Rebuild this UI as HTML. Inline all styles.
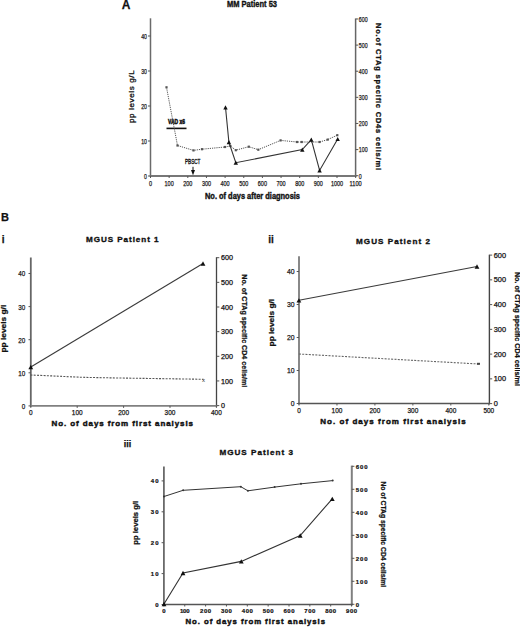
<!DOCTYPE html>
<html><head><meta charset="utf-8"><style>
html,body{margin:0;padding:0;background:#fff;width:520px;height:627px;overflow:hidden}
svg{display:block}
</style></head><body>
<svg width="520" height="627" viewBox="0 0 520 627">
<rect width="520" height="627" fill="#fff"/>
<line x1="150.50" y1="18.30" x2="150.50" y2="176.80" stroke="#6a6a6a" stroke-width="1.5" />
<line x1="355.60" y1="18.50" x2="355.60" y2="176.80" stroke="#666" stroke-width="1.5" />
<line x1="149.80" y1="176.00" x2="356.30" y2="176.00" stroke="#777" stroke-width="1.8" />
<line x1="148.00" y1="176.00" x2="150.50" y2="176.00" stroke="#555" stroke-width="1" />
<text x="147.00" y="178.80" font-family="Liberation Sans" font-size="8" font-weight="normal" text-anchor="end" fill="#111" stroke="#111" stroke-width="0.25" textLength="2.90" lengthAdjust="spacingAndGlyphs" >0</text>
<line x1="148.00" y1="141.00" x2="150.50" y2="141.00" stroke="#555" stroke-width="1" />
<text x="147.00" y="143.80" font-family="Liberation Sans" font-size="8" font-weight="normal" text-anchor="end" fill="#111" stroke="#111" stroke-width="0.25" textLength="5.80" lengthAdjust="spacingAndGlyphs" >10</text>
<line x1="148.00" y1="106.00" x2="150.50" y2="106.00" stroke="#555" stroke-width="1" />
<text x="147.00" y="108.80" font-family="Liberation Sans" font-size="8" font-weight="normal" text-anchor="end" fill="#111" stroke="#111" stroke-width="0.25" textLength="5.80" lengthAdjust="spacingAndGlyphs" >20</text>
<line x1="148.00" y1="71.00" x2="150.50" y2="71.00" stroke="#555" stroke-width="1" />
<text x="147.00" y="73.80" font-family="Liberation Sans" font-size="8" font-weight="normal" text-anchor="end" fill="#111" stroke="#111" stroke-width="0.25" textLength="5.80" lengthAdjust="spacingAndGlyphs" >30</text>
<line x1="148.00" y1="36.00" x2="150.50" y2="36.00" stroke="#555" stroke-width="1" />
<text x="147.00" y="38.80" font-family="Liberation Sans" font-size="8" font-weight="normal" text-anchor="end" fill="#111" stroke="#111" stroke-width="0.25" textLength="5.80" lengthAdjust="spacingAndGlyphs" >40</text>
<line x1="355.60" y1="175.70" x2="358.30" y2="175.70" stroke="#555" stroke-width="1" />
<text x="358.80" y="178.50" font-family="Liberation Sans" font-size="8" font-weight="normal" text-anchor="start" fill="#111" stroke="#111" stroke-width="0.25" textLength="2.93" lengthAdjust="spacingAndGlyphs" >0</text>
<line x1="355.60" y1="149.58" x2="358.30" y2="149.58" stroke="#555" stroke-width="1" />
<text x="358.80" y="152.38" font-family="Liberation Sans" font-size="8" font-weight="normal" text-anchor="start" fill="#111" stroke="#111" stroke-width="0.25" textLength="8.79" lengthAdjust="spacingAndGlyphs" >100</text>
<line x1="355.60" y1="123.46" x2="358.30" y2="123.46" stroke="#555" stroke-width="1" />
<text x="358.80" y="126.26" font-family="Liberation Sans" font-size="8" font-weight="normal" text-anchor="start" fill="#111" stroke="#111" stroke-width="0.25" textLength="8.79" lengthAdjust="spacingAndGlyphs" >200</text>
<line x1="355.60" y1="97.34" x2="358.30" y2="97.34" stroke="#555" stroke-width="1" />
<text x="358.80" y="100.14" font-family="Liberation Sans" font-size="8" font-weight="normal" text-anchor="start" fill="#111" stroke="#111" stroke-width="0.25" textLength="8.79" lengthAdjust="spacingAndGlyphs" >300</text>
<line x1="355.60" y1="71.22" x2="358.30" y2="71.22" stroke="#555" stroke-width="1" />
<text x="358.80" y="74.02" font-family="Liberation Sans" font-size="8" font-weight="normal" text-anchor="start" fill="#111" stroke="#111" stroke-width="0.25" textLength="8.79" lengthAdjust="spacingAndGlyphs" >400</text>
<line x1="355.60" y1="45.10" x2="358.30" y2="45.10" stroke="#555" stroke-width="1" />
<text x="358.80" y="47.90" font-family="Liberation Sans" font-size="8" font-weight="normal" text-anchor="start" fill="#111" stroke="#111" stroke-width="0.25" textLength="8.79" lengthAdjust="spacingAndGlyphs" >500</text>
<line x1="355.60" y1="18.98" x2="358.30" y2="18.98" stroke="#555" stroke-width="1" />
<text x="358.80" y="21.78" font-family="Liberation Sans" font-size="8" font-weight="normal" text-anchor="start" fill="#111" stroke="#111" stroke-width="0.25" textLength="8.79" lengthAdjust="spacingAndGlyphs" >600</text>
<line x1="150.50" y1="176.00" x2="150.50" y2="178.00" stroke="#555" stroke-width="1" />
<text x="150.50" y="186.30" font-family="Liberation Sans" font-size="8" font-weight="normal" text-anchor="middle" fill="#111" stroke="#111" stroke-width="0.25" textLength="3.05" lengthAdjust="spacingAndGlyphs" >0</text>
<line x1="169.15" y1="176.00" x2="169.15" y2="178.00" stroke="#555" stroke-width="1" />
<text x="169.15" y="186.30" font-family="Liberation Sans" font-size="8" font-weight="normal" text-anchor="middle" fill="#111" stroke="#111" stroke-width="0.25" textLength="9.15" lengthAdjust="spacingAndGlyphs" >100</text>
<line x1="187.80" y1="176.00" x2="187.80" y2="178.00" stroke="#555" stroke-width="1" />
<text x="187.80" y="186.30" font-family="Liberation Sans" font-size="8" font-weight="normal" text-anchor="middle" fill="#111" stroke="#111" stroke-width="0.25" textLength="9.15" lengthAdjust="spacingAndGlyphs" >200</text>
<line x1="206.45" y1="176.00" x2="206.45" y2="178.00" stroke="#555" stroke-width="1" />
<text x="206.45" y="186.30" font-family="Liberation Sans" font-size="8" font-weight="normal" text-anchor="middle" fill="#111" stroke="#111" stroke-width="0.25" textLength="9.15" lengthAdjust="spacingAndGlyphs" >300</text>
<line x1="225.10" y1="176.00" x2="225.10" y2="178.00" stroke="#555" stroke-width="1" />
<text x="225.10" y="186.30" font-family="Liberation Sans" font-size="8" font-weight="normal" text-anchor="middle" fill="#111" stroke="#111" stroke-width="0.25" textLength="9.15" lengthAdjust="spacingAndGlyphs" >400</text>
<line x1="243.75" y1="176.00" x2="243.75" y2="178.00" stroke="#555" stroke-width="1" />
<text x="243.75" y="186.30" font-family="Liberation Sans" font-size="8" font-weight="normal" text-anchor="middle" fill="#111" stroke="#111" stroke-width="0.25" textLength="9.15" lengthAdjust="spacingAndGlyphs" >500</text>
<line x1="262.40" y1="176.00" x2="262.40" y2="178.00" stroke="#555" stroke-width="1" />
<text x="262.40" y="186.30" font-family="Liberation Sans" font-size="8" font-weight="normal" text-anchor="middle" fill="#111" stroke="#111" stroke-width="0.25" textLength="9.15" lengthAdjust="spacingAndGlyphs" >600</text>
<line x1="281.05" y1="176.00" x2="281.05" y2="178.00" stroke="#555" stroke-width="1" />
<text x="281.05" y="186.30" font-family="Liberation Sans" font-size="8" font-weight="normal" text-anchor="middle" fill="#111" stroke="#111" stroke-width="0.25" textLength="9.15" lengthAdjust="spacingAndGlyphs" >700</text>
<line x1="299.70" y1="176.00" x2="299.70" y2="178.00" stroke="#555" stroke-width="1" />
<text x="299.70" y="186.30" font-family="Liberation Sans" font-size="8" font-weight="normal" text-anchor="middle" fill="#111" stroke="#111" stroke-width="0.25" textLength="9.15" lengthAdjust="spacingAndGlyphs" >800</text>
<line x1="318.35" y1="176.00" x2="318.35" y2="178.00" stroke="#555" stroke-width="1" />
<text x="318.35" y="186.30" font-family="Liberation Sans" font-size="8" font-weight="normal" text-anchor="middle" fill="#111" stroke="#111" stroke-width="0.25" textLength="9.15" lengthAdjust="spacingAndGlyphs" >900</text>
<line x1="337.00" y1="176.00" x2="337.00" y2="178.00" stroke="#555" stroke-width="1" />
<text x="337.00" y="186.30" font-family="Liberation Sans" font-size="8" font-weight="normal" text-anchor="middle" fill="#111" stroke="#111" stroke-width="0.25" textLength="12.20" lengthAdjust="spacingAndGlyphs" >1000</text>
<line x1="355.65" y1="176.00" x2="355.65" y2="178.00" stroke="#555" stroke-width="1" />
<text x="355.65" y="186.30" font-family="Liberation Sans" font-size="8" font-weight="normal" text-anchor="middle" fill="#111" stroke="#111" stroke-width="0.25" textLength="12.20" lengthAdjust="spacingAndGlyphs" >1100</text>
<text x="121.80" y="8.70" font-family="Liberation Sans" font-size="12" font-weight="bold" text-anchor="start" fill="#111" stroke="#111" stroke-width="0.25" >A</text>
<text x="227.00" y="7.30" font-family="Liberation Sans" font-size="9.5" font-weight="bold" text-anchor="start" fill="#111" stroke="#111" stroke-width="0.4" textLength="50.00" lengthAdjust="spacingAndGlyphs" >MM Patient 53</text>
<text transform="translate(134.40,123.00) rotate(-90)" x="0" y="0" font-family="Liberation Sans" font-size="8" font-weight="normal" text-anchor="start" fill="#111" stroke="#111" stroke-width="0.3" textLength="52.60" lengthAdjust="spacing" >pp levels g/L</text>
<text transform="translate(375.60,23.00) rotate(90)" x="0" y="0" font-family="Liberation Sans" font-size="7.5" font-weight="bold" text-anchor="start" fill="#111" stroke="#111" stroke-width="0.3" textLength="147.00" lengthAdjust="spacing" >No.of CTAg specific CD4s cells/ml</text>
<text x="205.00" y="198.50" font-family="Liberation Sans" font-size="8.6" font-weight="bold" text-anchor="start" fill="#111" stroke="#111" stroke-width="0.4" textLength="95.00" lengthAdjust="spacingAndGlyphs" >No. of days after diagnosis</text>
<text x="168.00" y="124.20" font-family="Liberation Sans" font-size="7.2" font-weight="bold" text-anchor="start" fill="#111" stroke="#111" stroke-width="0.55" textLength="17.00" lengthAdjust="spacingAndGlyphs" >VAD x6</text>
<line x1="166.50" y1="128.40" x2="186.50" y2="128.40" stroke="#111" stroke-width="1.6" />
<text x="185.00" y="163.80" font-family="Liberation Sans" font-size="7" font-weight="normal" text-anchor="start" fill="#111" stroke="#111" stroke-width="0.35" textLength="15.40" lengthAdjust="spacingAndGlyphs" >PBSCT</text>
<line x1="193.00" y1="166.80" x2="193.00" y2="171.00" stroke="#111" stroke-width="1" />
<polygon points="191,170 195,170 193,175.3" fill="#111"/>
<polyline points="166.50,87.30 177.50,145.50 193.50,150.40 202.00,149.20 225.00,147.00 230.40,146.00 235.80,150.20 248.80,146.70 258.30,149.70 280.60,140.40 297.00,142.00 301.70,142.00 319.60,142.00 327.70,139.60 337.30,135.20" fill="none" stroke="#555" stroke-width="1" stroke-dasharray="1.2,1"/>
<rect x="165.4" y="86.2" width="2.2" height="2.2" fill="#555"/>
<rect x="176.4" y="144.4" width="2.2" height="2.2" fill="#555"/>
<rect x="192.4" y="149.3" width="2.2" height="2.2" fill="#555"/>
<rect x="200.9" y="148.1" width="2.2" height="2.2" fill="#555"/>
<rect x="223.9" y="145.9" width="2.2" height="2.2" fill="#555"/>
<rect x="229.3" y="144.9" width="2.2" height="2.2" fill="#555"/>
<rect x="234.70000000000002" y="149.1" width="2.2" height="2.2" fill="#555"/>
<rect x="247.70000000000002" y="145.6" width="2.2" height="2.2" fill="#555"/>
<rect x="257.2" y="148.6" width="2.2" height="2.2" fill="#555"/>
<rect x="279.5" y="139.3" width="2.2" height="2.2" fill="#555"/>
<rect x="295.9" y="140.9" width="2.2" height="2.2" fill="#555"/>
<rect x="300.59999999999997" y="140.9" width="2.2" height="2.2" fill="#555"/>
<rect x="318.5" y="140.9" width="2.2" height="2.2" fill="#555"/>
<rect x="326.59999999999997" y="138.5" width="2.2" height="2.2" fill="#555"/>
<rect x="336.2" y="134.1" width="2.2" height="2.2" fill="#555"/>
<polyline points="225.50,107.30 228.90,142.20 235.80,162.70 302.30,149.60 311.30,139.60 319.60,170.40 337.70,139.00" fill="none" stroke="#333" stroke-width="1.1" />
<polygon points="223.30,109.40 227.70,109.40 225.50,105.20" fill="#111"/>
<polygon points="226.70,144.30 231.10,144.30 228.90,140.10" fill="#111"/>
<polygon points="233.60,164.80 238.00,164.80 235.80,160.60" fill="#111"/>
<polygon points="300.10,151.70 304.50,151.70 302.30,147.50" fill="#111"/>
<polygon points="309.10,141.70 313.50,141.70 311.30,137.50" fill="#111"/>
<polygon points="317.40,172.50 321.80,172.50 319.60,168.30" fill="#111"/>
<polygon points="335.50,141.10 339.90,141.10 337.70,136.90" fill="#111"/>
<line x1="30.80" y1="257.50" x2="30.80" y2="406.70" stroke="#666" stroke-width="1.8" />
<line x1="216.50" y1="257.20" x2="216.50" y2="406.70" stroke="#444" stroke-width="1.3" />
<line x1="30.00" y1="405.90" x2="217.10" y2="405.90" stroke="#808080" stroke-width="1.9" />
<line x1="28.50" y1="405.90" x2="30.80" y2="405.90" stroke="#555" stroke-width="1" />
<text x="25.30" y="408.80" font-family="Liberation Sans" font-size="8" font-weight="normal" text-anchor="end" fill="#111" stroke="#111" stroke-width="0.25" textLength="3.50" lengthAdjust="spacingAndGlyphs" >0</text>
<line x1="28.50" y1="372.80" x2="30.80" y2="372.80" stroke="#555" stroke-width="1" />
<text x="25.30" y="375.70" font-family="Liberation Sans" font-size="8" font-weight="normal" text-anchor="end" fill="#111" stroke="#111" stroke-width="0.25" textLength="7.00" lengthAdjust="spacingAndGlyphs" >10</text>
<line x1="28.50" y1="339.70" x2="30.80" y2="339.70" stroke="#555" stroke-width="1" />
<text x="25.30" y="342.60" font-family="Liberation Sans" font-size="8" font-weight="normal" text-anchor="end" fill="#111" stroke="#111" stroke-width="0.25" textLength="7.00" lengthAdjust="spacingAndGlyphs" >20</text>
<line x1="28.50" y1="306.60" x2="30.80" y2="306.60" stroke="#555" stroke-width="1" />
<text x="25.30" y="309.50" font-family="Liberation Sans" font-size="8" font-weight="normal" text-anchor="end" fill="#111" stroke="#111" stroke-width="0.25" textLength="7.00" lengthAdjust="spacingAndGlyphs" >30</text>
<line x1="28.50" y1="273.50" x2="30.80" y2="273.50" stroke="#555" stroke-width="1" />
<text x="25.30" y="276.40" font-family="Liberation Sans" font-size="8" font-weight="normal" text-anchor="end" fill="#111" stroke="#111" stroke-width="0.25" textLength="7.00" lengthAdjust="spacingAndGlyphs" >40</text>
<line x1="216.50" y1="405.60" x2="219.30" y2="405.60" stroke="#555" stroke-width="1" />
<text x="220.90" y="408.20" font-family="Liberation Sans" font-size="7.4" font-weight="normal" text-anchor="start" fill="#111" stroke="#111" stroke-width="0.25" textLength="4.00" lengthAdjust="spacingAndGlyphs" >0</text>
<line x1="216.50" y1="380.95" x2="219.30" y2="380.95" stroke="#555" stroke-width="1" />
<text x="220.90" y="383.55" font-family="Liberation Sans" font-size="7.4" font-weight="normal" text-anchor="start" fill="#111" stroke="#111" stroke-width="0.25" textLength="12.00" lengthAdjust="spacingAndGlyphs" >100</text>
<line x1="216.50" y1="356.30" x2="219.30" y2="356.30" stroke="#555" stroke-width="1" />
<text x="220.90" y="358.90" font-family="Liberation Sans" font-size="7.4" font-weight="normal" text-anchor="start" fill="#111" stroke="#111" stroke-width="0.25" textLength="12.00" lengthAdjust="spacingAndGlyphs" >200</text>
<line x1="216.50" y1="331.65" x2="219.30" y2="331.65" stroke="#555" stroke-width="1" />
<text x="220.90" y="334.25" font-family="Liberation Sans" font-size="7.4" font-weight="normal" text-anchor="start" fill="#111" stroke="#111" stroke-width="0.25" textLength="12.00" lengthAdjust="spacingAndGlyphs" >300</text>
<line x1="216.50" y1="307.00" x2="219.30" y2="307.00" stroke="#555" stroke-width="1" />
<text x="220.90" y="309.60" font-family="Liberation Sans" font-size="7.4" font-weight="normal" text-anchor="start" fill="#111" stroke="#111" stroke-width="0.25" textLength="12.00" lengthAdjust="spacingAndGlyphs" >400</text>
<line x1="216.50" y1="282.35" x2="219.30" y2="282.35" stroke="#555" stroke-width="1" />
<text x="220.90" y="284.95" font-family="Liberation Sans" font-size="7.4" font-weight="normal" text-anchor="start" fill="#111" stroke="#111" stroke-width="0.25" textLength="12.00" lengthAdjust="spacingAndGlyphs" >500</text>
<line x1="216.50" y1="257.70" x2="219.30" y2="257.70" stroke="#555" stroke-width="1" />
<text x="220.90" y="260.30" font-family="Liberation Sans" font-size="7.4" font-weight="normal" text-anchor="start" fill="#111" stroke="#111" stroke-width="0.25" textLength="12.00" lengthAdjust="spacingAndGlyphs" >600</text>
<line x1="30.80" y1="405.90" x2="30.80" y2="407.90" stroke="#555" stroke-width="1" />
<text x="30.80" y="414.80" font-family="Liberation Sans" font-size="7.6" font-weight="normal" text-anchor="middle" fill="#111" stroke="#111" stroke-width="0.25" textLength="3.60" lengthAdjust="spacingAndGlyphs" >0</text>
<line x1="77.20" y1="405.90" x2="77.20" y2="407.90" stroke="#555" stroke-width="1" />
<text x="77.20" y="414.80" font-family="Liberation Sans" font-size="7.6" font-weight="normal" text-anchor="middle" fill="#111" stroke="#111" stroke-width="0.25" textLength="10.80" lengthAdjust="spacingAndGlyphs" >100</text>
<line x1="123.60" y1="405.90" x2="123.60" y2="407.90" stroke="#555" stroke-width="1" />
<text x="123.60" y="414.80" font-family="Liberation Sans" font-size="7.6" font-weight="normal" text-anchor="middle" fill="#111" stroke="#111" stroke-width="0.25" textLength="10.80" lengthAdjust="spacingAndGlyphs" >200</text>
<line x1="170.00" y1="405.90" x2="170.00" y2="407.90" stroke="#555" stroke-width="1" />
<text x="170.00" y="414.80" font-family="Liberation Sans" font-size="7.6" font-weight="normal" text-anchor="middle" fill="#111" stroke="#111" stroke-width="0.25" textLength="10.80" lengthAdjust="spacingAndGlyphs" >300</text>
<line x1="216.40" y1="405.90" x2="216.40" y2="407.90" stroke="#555" stroke-width="1" />
<text x="216.40" y="414.80" font-family="Liberation Sans" font-size="7.6" font-weight="normal" text-anchor="middle" fill="#111" stroke="#111" stroke-width="0.25" textLength="10.80" lengthAdjust="spacingAndGlyphs" >400</text>
<text x="1.00" y="220.80" font-family="Liberation Sans" font-size="11" font-weight="bold" text-anchor="start" fill="#111" stroke="#111" stroke-width="0.25" >B</text>
<text x="1.80" y="243.40" font-family="Liberation Sans" font-size="10" font-weight="bold" text-anchor="start" fill="#111" stroke="#111" stroke-width="0.25" >i</text>
<text x="86.00" y="242.20" font-family="Liberation Sans" font-size="8.1" font-weight="bold" text-anchor="start" fill="#111" stroke="#111" stroke-width="0.35" textLength="72.50" lengthAdjust="spacing" >MGUS Patient 1</text>
<text transform="translate(6.40,352.50) rotate(-90)" x="0" y="0" font-family="Liberation Sans" font-size="7.5" font-weight="bold" text-anchor="start" fill="#111" stroke="#111" stroke-width="0.25" textLength="47.70" lengthAdjust="spacingAndGlyphs" >pp levels g/l</text>
<text transform="translate(241.70,274.30) rotate(90)" x="0" y="0" font-family="Liberation Sans" font-size="7.5" font-weight="bold" text-anchor="start" fill="#111" stroke="#111" stroke-width="0.25" textLength="113.00" lengthAdjust="spacingAndGlyphs" >No. of CTAg specific CD4 cells/ml</text>
<text x="51.50" y="426.30" font-family="Liberation Sans" font-size="8" font-weight="bold" text-anchor="start" fill="#111" stroke="#111" stroke-width="0.45" textLength="141.50" lengthAdjust="spacing" >No. of days from first analysis</text>
<polyline points="30.40,375.00 43.00,375.50 82.00,377.30 118.00,378.00 203.60,379.30" fill="none" stroke="#555" stroke-width="1.1" stroke-dasharray="2,1.3"/>
<text x="203.6" y="381.5" font-family="Liberation Sans" font-size="6" text-anchor="middle" fill="#333">x</text>
<polyline points="30.80,367.00 203.00,263.50" fill="none" stroke="#3a3a3a" stroke-width="1.1" />
<polygon points="28.40,369.15 33.20,369.15 30.80,364.85" fill="#111"/>
<polygon points="200.60,265.65 205.40,265.65 203.00,261.35" fill="#111"/>
<line x1="299.00" y1="256.20" x2="299.00" y2="404.30" stroke="#888" stroke-width="2.0" />
<line x1="489.40" y1="254.70" x2="489.40" y2="404.30" stroke="#444" stroke-width="1.4" />
<line x1="298.00" y1="403.50" x2="490.10" y2="403.50" stroke="#555" stroke-width="1.5" />
<line x1="296.70" y1="403.50" x2="299.00" y2="403.50" stroke="#555" stroke-width="1" />
<text x="294.60" y="406.40" font-family="Liberation Sans" font-size="8" font-weight="normal" text-anchor="end" fill="#111" stroke="#111" stroke-width="0.25" textLength="3.80" lengthAdjust="spacingAndGlyphs" >0</text>
<line x1="296.70" y1="370.50" x2="299.00" y2="370.50" stroke="#555" stroke-width="1" />
<text x="294.60" y="373.40" font-family="Liberation Sans" font-size="8" font-weight="normal" text-anchor="end" fill="#111" stroke="#111" stroke-width="0.25" textLength="7.60" lengthAdjust="spacingAndGlyphs" >10</text>
<line x1="296.70" y1="337.50" x2="299.00" y2="337.50" stroke="#555" stroke-width="1" />
<text x="294.60" y="340.40" font-family="Liberation Sans" font-size="8" font-weight="normal" text-anchor="end" fill="#111" stroke="#111" stroke-width="0.25" textLength="7.60" lengthAdjust="spacingAndGlyphs" >20</text>
<line x1="296.70" y1="304.50" x2="299.00" y2="304.50" stroke="#555" stroke-width="1" />
<text x="294.60" y="307.40" font-family="Liberation Sans" font-size="8" font-weight="normal" text-anchor="end" fill="#111" stroke="#111" stroke-width="0.25" textLength="7.60" lengthAdjust="spacingAndGlyphs" >30</text>
<line x1="296.70" y1="271.50" x2="299.00" y2="271.50" stroke="#555" stroke-width="1" />
<text x="294.60" y="274.40" font-family="Liberation Sans" font-size="8" font-weight="normal" text-anchor="end" fill="#111" stroke="#111" stroke-width="0.25" textLength="7.60" lengthAdjust="spacingAndGlyphs" >40</text>
<line x1="489.40" y1="403.60" x2="492.20" y2="403.60" stroke="#555" stroke-width="1" />
<text x="493.70" y="406.20" font-family="Liberation Sans" font-size="7.4" font-weight="normal" text-anchor="start" fill="#111" stroke="#111" stroke-width="0.25" textLength="4.10" lengthAdjust="spacingAndGlyphs" >0</text>
<line x1="489.40" y1="378.85" x2="492.20" y2="378.85" stroke="#555" stroke-width="1" />
<text x="493.70" y="381.45" font-family="Liberation Sans" font-size="7.4" font-weight="normal" text-anchor="start" fill="#111" stroke="#111" stroke-width="0.25" textLength="12.30" lengthAdjust="spacingAndGlyphs" >100</text>
<line x1="489.40" y1="354.10" x2="492.20" y2="354.10" stroke="#555" stroke-width="1" />
<text x="493.70" y="356.70" font-family="Liberation Sans" font-size="7.4" font-weight="normal" text-anchor="start" fill="#111" stroke="#111" stroke-width="0.25" textLength="12.30" lengthAdjust="spacingAndGlyphs" >200</text>
<line x1="489.40" y1="329.35" x2="492.20" y2="329.35" stroke="#555" stroke-width="1" />
<text x="493.70" y="331.95" font-family="Liberation Sans" font-size="7.4" font-weight="normal" text-anchor="start" fill="#111" stroke="#111" stroke-width="0.25" textLength="12.30" lengthAdjust="spacingAndGlyphs" >300</text>
<line x1="489.40" y1="304.60" x2="492.20" y2="304.60" stroke="#555" stroke-width="1" />
<text x="493.70" y="307.20" font-family="Liberation Sans" font-size="7.4" font-weight="normal" text-anchor="start" fill="#111" stroke="#111" stroke-width="0.25" textLength="12.30" lengthAdjust="spacingAndGlyphs" >400</text>
<line x1="489.40" y1="279.85" x2="492.20" y2="279.85" stroke="#555" stroke-width="1" />
<text x="493.70" y="282.45" font-family="Liberation Sans" font-size="7.4" font-weight="normal" text-anchor="start" fill="#111" stroke="#111" stroke-width="0.25" textLength="12.30" lengthAdjust="spacingAndGlyphs" >500</text>
<line x1="489.40" y1="255.10" x2="492.20" y2="255.10" stroke="#555" stroke-width="1" />
<text x="493.70" y="257.70" font-family="Liberation Sans" font-size="7.4" font-weight="normal" text-anchor="start" fill="#111" stroke="#111" stroke-width="0.25" textLength="12.30" lengthAdjust="spacingAndGlyphs" >600</text>
<line x1="299.00" y1="403.50" x2="299.00" y2="405.50" stroke="#555" stroke-width="1" />
<text x="299.00" y="413.20" font-family="Liberation Sans" font-size="7.6" font-weight="normal" text-anchor="middle" fill="#111" stroke="#111" stroke-width="0.25" textLength="3.60" lengthAdjust="spacingAndGlyphs" >0</text>
<line x1="336.96" y1="403.50" x2="336.96" y2="405.50" stroke="#555" stroke-width="1" />
<text x="336.96" y="413.20" font-family="Liberation Sans" font-size="7.6" font-weight="normal" text-anchor="middle" fill="#111" stroke="#111" stroke-width="0.25" textLength="10.80" lengthAdjust="spacingAndGlyphs" >100</text>
<line x1="374.92" y1="403.50" x2="374.92" y2="405.50" stroke="#555" stroke-width="1" />
<text x="374.92" y="413.20" font-family="Liberation Sans" font-size="7.6" font-weight="normal" text-anchor="middle" fill="#111" stroke="#111" stroke-width="0.25" textLength="10.80" lengthAdjust="spacingAndGlyphs" >200</text>
<line x1="412.88" y1="403.50" x2="412.88" y2="405.50" stroke="#555" stroke-width="1" />
<text x="412.88" y="413.20" font-family="Liberation Sans" font-size="7.6" font-weight="normal" text-anchor="middle" fill="#111" stroke="#111" stroke-width="0.25" textLength="10.80" lengthAdjust="spacingAndGlyphs" >300</text>
<line x1="450.84" y1="403.50" x2="450.84" y2="405.50" stroke="#555" stroke-width="1" />
<text x="450.84" y="413.20" font-family="Liberation Sans" font-size="7.6" font-weight="normal" text-anchor="middle" fill="#111" stroke="#111" stroke-width="0.25" textLength="10.80" lengthAdjust="spacingAndGlyphs" >400</text>
<line x1="488.80" y1="403.50" x2="488.80" y2="405.50" stroke="#555" stroke-width="1" />
<text x="488.80" y="413.20" font-family="Liberation Sans" font-size="7.6" font-weight="normal" text-anchor="middle" fill="#111" stroke="#111" stroke-width="0.25" textLength="10.80" lengthAdjust="spacingAndGlyphs" >500</text>
<text x="268.30" y="243.40" font-family="Liberation Sans" font-size="10" font-weight="bold" text-anchor="start" fill="#111" stroke="#111" stroke-width="0.25" >ii</text>
<text x="356.00" y="243.60" font-family="Liberation Sans" font-size="8.1" font-weight="bold" text-anchor="start" fill="#111" stroke="#111" stroke-width="0.35" textLength="74.00" lengthAdjust="spacing" >MGUS Patient 2</text>
<text transform="translate(274.20,346.40) rotate(-90)" x="0" y="0" font-family="Liberation Sans" font-size="7.5" font-weight="bold" text-anchor="start" fill="#111" stroke="#111" stroke-width="0.25" textLength="47.50" lengthAdjust="spacingAndGlyphs" >pp levels g/l</text>
<text transform="translate(515.40,271.90) rotate(90)" x="0" y="0" font-family="Liberation Sans" font-size="7.5" font-weight="bold" text-anchor="start" fill="#111" stroke="#111" stroke-width="0.25" textLength="114.00" lengthAdjust="spacingAndGlyphs" >No. of CTAg specific CD4 cells/ml</text>
<text x="320.30" y="424.00" font-family="Liberation Sans" font-size="8" font-weight="bold" text-anchor="start" fill="#111" stroke="#111" stroke-width="0.45" textLength="145.40" lengthAdjust="spacing" >No. of days from first analysis</text>
<polyline points="298.90,354.00 479.00,364.00" fill="none" stroke="#666" stroke-width="1.1" stroke-dasharray="2,1.3"/>
<rect x="477" y="362.8" width="3" height="2" fill="#444"/>
<polyline points="299.00,300.30 477.00,266.50" fill="none" stroke="#3a3a3a" stroke-width="1.1" />
<polygon points="296.50,302.45 301.30,302.45 298.90,298.15" fill="#111"/>
<polygon points="474.60,268.65 479.40,268.65 477.00,264.35" fill="#111"/>
<line x1="163.90" y1="466.50" x2="163.90" y2="605.30" stroke="#6a6a6a" stroke-width="1.8" />
<line x1="351.80" y1="465.60" x2="351.80" y2="605.30" stroke="#808080" stroke-width="2.0" />
<line x1="163.00" y1="604.50" x2="352.80" y2="604.50" stroke="#555" stroke-width="1.5" />
<line x1="161.60" y1="604.50" x2="163.90" y2="604.50" stroke="#555" stroke-width="1" />
<text x="158.50" y="606.70" font-family="Liberation Sans" font-size="6" font-weight="bold" text-anchor="end" fill="#111" stroke="#111" stroke-width="0.2" textLength="3.20" lengthAdjust="spacing" >0</text>
<line x1="161.60" y1="573.60" x2="163.90" y2="573.60" stroke="#555" stroke-width="1" />
<text x="158.50" y="575.80" font-family="Liberation Sans" font-size="6" font-weight="bold" text-anchor="end" fill="#111" stroke="#111" stroke-width="0.2" textLength="7.70" lengthAdjust="spacing" >10</text>
<line x1="161.60" y1="542.70" x2="163.90" y2="542.70" stroke="#555" stroke-width="1" />
<text x="158.50" y="544.90" font-family="Liberation Sans" font-size="6" font-weight="bold" text-anchor="end" fill="#111" stroke="#111" stroke-width="0.2" textLength="7.70" lengthAdjust="spacing" >20</text>
<line x1="161.60" y1="511.80" x2="163.90" y2="511.80" stroke="#555" stroke-width="1" />
<text x="158.50" y="514.00" font-family="Liberation Sans" font-size="6" font-weight="bold" text-anchor="end" fill="#111" stroke="#111" stroke-width="0.2" textLength="7.70" lengthAdjust="spacing" >30</text>
<line x1="161.60" y1="480.90" x2="163.90" y2="480.90" stroke="#555" stroke-width="1" />
<text x="158.50" y="483.10" font-family="Liberation Sans" font-size="6" font-weight="bold" text-anchor="end" fill="#111" stroke="#111" stroke-width="0.2" textLength="7.70" lengthAdjust="spacing" >40</text>
<line x1="351.80" y1="604.30" x2="354.40" y2="604.30" stroke="#555" stroke-width="1" />
<text x="355.80" y="606.50" font-family="Liberation Sans" font-size="6" font-weight="bold" text-anchor="start" fill="#111" stroke="#111" stroke-width="0.2" textLength="3.20" lengthAdjust="spacing" >0</text>
<line x1="351.80" y1="581.30" x2="354.40" y2="581.30" stroke="#555" stroke-width="1" />
<text x="355.80" y="583.50" font-family="Liberation Sans" font-size="6" font-weight="bold" text-anchor="start" fill="#111" stroke="#111" stroke-width="0.2" textLength="11.90" lengthAdjust="spacing" >100</text>
<line x1="351.80" y1="558.30" x2="354.40" y2="558.30" stroke="#555" stroke-width="1" />
<text x="355.80" y="560.50" font-family="Liberation Sans" font-size="6" font-weight="bold" text-anchor="start" fill="#111" stroke="#111" stroke-width="0.2" textLength="11.90" lengthAdjust="spacing" >200</text>
<line x1="351.80" y1="535.30" x2="354.40" y2="535.30" stroke="#555" stroke-width="1" />
<text x="355.80" y="537.50" font-family="Liberation Sans" font-size="6" font-weight="bold" text-anchor="start" fill="#111" stroke="#111" stroke-width="0.2" textLength="11.90" lengthAdjust="spacing" >300</text>
<line x1="351.80" y1="512.30" x2="354.40" y2="512.30" stroke="#555" stroke-width="1" />
<text x="355.80" y="514.50" font-family="Liberation Sans" font-size="6" font-weight="bold" text-anchor="start" fill="#111" stroke="#111" stroke-width="0.2" textLength="11.90" lengthAdjust="spacing" >400</text>
<line x1="351.80" y1="489.30" x2="354.40" y2="489.30" stroke="#555" stroke-width="1" />
<text x="355.80" y="491.50" font-family="Liberation Sans" font-size="6" font-weight="bold" text-anchor="start" fill="#111" stroke="#111" stroke-width="0.2" textLength="11.90" lengthAdjust="spacing" >500</text>
<line x1="351.80" y1="466.30" x2="354.40" y2="466.30" stroke="#555" stroke-width="1" />
<text x="355.80" y="468.50" font-family="Liberation Sans" font-size="6" font-weight="bold" text-anchor="start" fill="#111" stroke="#111" stroke-width="0.2" textLength="11.90" lengthAdjust="spacing" >600</text>
<line x1="163.90" y1="604.50" x2="163.90" y2="606.50" stroke="#555" stroke-width="1" />
<text x="163.90" y="612.60" font-family="Liberation Sans" font-size="6" font-weight="bold" text-anchor="middle" fill="#111" stroke="#111" stroke-width="0.2" textLength="3.20" lengthAdjust="spacing" >0</text>
<line x1="184.75" y1="604.50" x2="184.75" y2="606.50" stroke="#555" stroke-width="1" />
<text x="184.75" y="612.60" font-family="Liberation Sans" font-size="6" font-weight="bold" text-anchor="middle" fill="#111" stroke="#111" stroke-width="0.2" textLength="9.60" lengthAdjust="spacing" >100</text>
<line x1="205.60" y1="604.50" x2="205.60" y2="606.50" stroke="#555" stroke-width="1" />
<text x="205.60" y="612.60" font-family="Liberation Sans" font-size="6" font-weight="bold" text-anchor="middle" fill="#111" stroke="#111" stroke-width="0.2" textLength="11.00" lengthAdjust="spacing" >200</text>
<line x1="226.45" y1="604.50" x2="226.45" y2="606.50" stroke="#555" stroke-width="1" />
<text x="226.45" y="612.60" font-family="Liberation Sans" font-size="6" font-weight="bold" text-anchor="middle" fill="#111" stroke="#111" stroke-width="0.2" textLength="11.00" lengthAdjust="spacing" >300</text>
<line x1="247.30" y1="604.50" x2="247.30" y2="606.50" stroke="#555" stroke-width="1" />
<text x="247.30" y="612.60" font-family="Liberation Sans" font-size="6" font-weight="bold" text-anchor="middle" fill="#111" stroke="#111" stroke-width="0.2" textLength="11.00" lengthAdjust="spacing" >400</text>
<line x1="268.15" y1="604.50" x2="268.15" y2="606.50" stroke="#555" stroke-width="1" />
<text x="268.15" y="612.60" font-family="Liberation Sans" font-size="6" font-weight="bold" text-anchor="middle" fill="#111" stroke="#111" stroke-width="0.2" textLength="11.00" lengthAdjust="spacing" >500</text>
<line x1="289.00" y1="604.50" x2="289.00" y2="606.50" stroke="#555" stroke-width="1" />
<text x="289.00" y="612.60" font-family="Liberation Sans" font-size="6" font-weight="bold" text-anchor="middle" fill="#111" stroke="#111" stroke-width="0.2" textLength="11.00" lengthAdjust="spacing" >600</text>
<line x1="309.85" y1="604.50" x2="309.85" y2="606.50" stroke="#555" stroke-width="1" />
<text x="309.85" y="612.60" font-family="Liberation Sans" font-size="6" font-weight="bold" text-anchor="middle" fill="#111" stroke="#111" stroke-width="0.2" textLength="11.00" lengthAdjust="spacing" >700</text>
<line x1="330.70" y1="604.50" x2="330.70" y2="606.50" stroke="#555" stroke-width="1" />
<text x="330.70" y="612.60" font-family="Liberation Sans" font-size="6" font-weight="bold" text-anchor="middle" fill="#111" stroke="#111" stroke-width="0.2" textLength="11.00" lengthAdjust="spacing" >800</text>
<line x1="351.55" y1="604.50" x2="351.55" y2="606.50" stroke="#555" stroke-width="1" />
<text x="351.55" y="612.60" font-family="Liberation Sans" font-size="6" font-weight="bold" text-anchor="middle" fill="#111" stroke="#111" stroke-width="0.2" textLength="11.00" lengthAdjust="spacing" >900</text>
<text x="123.80" y="447.20" font-family="Liberation Sans" font-size="9" font-weight="bold" text-anchor="start" fill="#111" stroke="#111" stroke-width="0.25" >iii</text>
<text x="219.40" y="455.00" font-family="Liberation Sans" font-size="8.1" font-weight="bold" text-anchor="start" fill="#111" stroke="#111" stroke-width="0.35" textLength="73.50" lengthAdjust="spacing" >MGUS Patient 3</text>
<text transform="translate(137.90,544.80) rotate(-90)" x="0" y="0" font-family="Liberation Sans" font-size="7" font-weight="bold" text-anchor="start" fill="#111" stroke="#111" stroke-width="0.25" textLength="44.00" lengthAdjust="spacingAndGlyphs" >pp levels g/l</text>
<text transform="translate(380.60,481.40) rotate(90)" x="0" y="0" font-family="Liberation Sans" font-size="7" font-weight="bold" text-anchor="start" fill="#111" stroke="#111" stroke-width="0.25" textLength="105.80" lengthAdjust="spacingAndGlyphs" >No of CTAg specific CD4 cells/ml</text>
<text x="185.50" y="624.30" font-family="Liberation Sans" font-size="7.8" font-weight="bold" text-anchor="start" fill="#111" stroke="#111" stroke-width="0.45" textLength="139.50" lengthAdjust="spacing" >No. of days from first analysis</text>
<polyline points="164.00,496.50 183.10,490.30 240.80,486.70 247.90,490.80 274.60,487.10 301.00,483.80 332.70,480.60" fill="none" stroke="#333" stroke-width="1" />
<circle cx="164" cy="496.5" r="1" fill="#333"/>
<circle cx="183.1" cy="490.3" r="1" fill="#333"/>
<circle cx="240.8" cy="486.7" r="1" fill="#333"/>
<circle cx="247.9" cy="490.8" r="1" fill="#333"/>
<circle cx="274.6" cy="487.1" r="1" fill="#333"/>
<circle cx="301" cy="483.8" r="1" fill="#333"/>
<circle cx="332.7" cy="480.6" r="1" fill="#333"/>
<polyline points="164.00,604.00 183.00,573.00 241.30,561.40 300.20,535.50 332.30,498.80" fill="none" stroke="#333" stroke-width="1.1" />
<polygon points="161.60,606.15 166.40,606.15 164.00,601.85" fill="#111"/>
<polygon points="180.60,575.15 185.40,575.15 183.00,570.85" fill="#111"/>
<polygon points="238.90,563.55 243.70,563.55 241.30,559.25" fill="#111"/>
<polygon points="297.80,537.65 302.60,537.65 300.20,533.35" fill="#111"/>
<polygon points="329.90,500.95 334.70,500.95 332.30,496.65" fill="#111"/>
</svg>
</body></html>
